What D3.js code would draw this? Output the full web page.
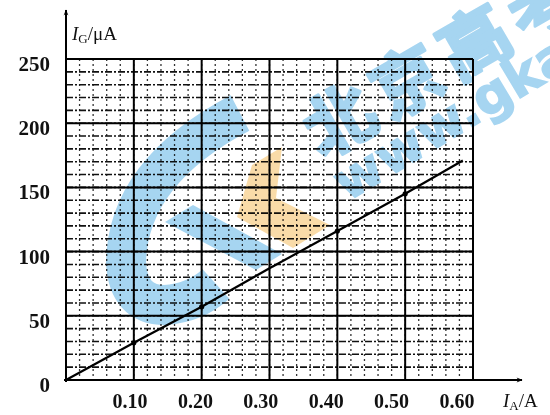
<!DOCTYPE html>
<html>
<head>
<meta charset="utf-8">
<script src="https://cdn.jsdelivr.net/npm/d3@7"></script>
<style>
  body { margin: 0; background: #fff; }
  svg { display: block; }
</style>
</head>
<body>
<div id="chart"></div>
<script>
// data
const currentA = [0, 0.1, 0.2, 0.3, 0.4, 0.5, 0.585];  // I_A in A
const currentG = [0, 29, 57, 87, 116, 145, 171];       // I_G in uA
const markedA = [0.1, 0.2, 0.4, 0.5];
const markedG = [29, 57, 116, 145];
const xTicks = [0.1, 0.2, 0.3, 0.4, 0.5, 0.6];
const xTickLabels = ["0.10", "0.20", "0.30", "0.40", "0.50", "0.60"];
const yTicks = [0, 50, 100, 150, 200, 250];

const width = 550;
const height = 415;

const x = d3.scaleLinear().domain([0, 0.6]).range([66, 473]);
const y = d3.scaleLinear().domain([0, 250]).range([380, 59]);
// printed labels drift a little left of their grid lines
const labelX = d3.scaleLinear().domain([0.1, 0.6]).range([130, 457]);

const svg = d3.select("#chart").append("svg")
  .attr("width", width)
  .attr("height", height);

const serif = "'Liberation Serif', 'DejaVu Serif', serif";

// grid paper
const grid = svg.append("g");
const minorX = d3.range(0, 0.6001, 0.02);
const minorY = d3.range(0, 250.1, 10);

grid.selectAll("line.vminor")
  .data(minorX)
  .enter().append("line")
  .attr("x1", d => x(d)).attr("x2", d => x(d))
  .attr("y1", y(250)).attr("y2", y(0))
  .attr("stroke", "#333")
  .attr("stroke-width", 1.3)
  .attr("stroke-dasharray", "2,3");

grid.selectAll("line.hminor")
  .data(minorY)
  .enter().append("line")
  .attr("x1", x(0)).attr("x2", x(0.6))
  .attr("y1", d => y(d)).attr("y2", d => y(d))
  .attr("stroke", "#111")
  .attr("stroke-width", 1.6)
  .attr("stroke-dasharray", "7,2,2,2");

grid.selectAll("line.vmajor")
  .data(d3.range(0, 0.6001, 0.1))
  .enter().append("line")
  .attr("x1", d => x(d)).attr("x2", d => x(d))
  .attr("y1", y(250)).attr("y2", y(0))
  .attr("stroke", "#000")
  .attr("stroke-width", 2);

grid.selectAll("line.hmajor")
  .data(yTicks)
  .enter().append("line")
  .attr("x1", x(0)).attr("x2", x(0.6))
  .attr("y1", d => y(d)).attr("y2", d => y(d))
  .attr("stroke", "#000")
  .attr("stroke-width", 2);

// watermark (blue G, orange K, site name)
const wm = svg.append("g").style("mix-blend-mode", "multiply");
wm.append("path")
  .attr("d", "M240,113 Q128,172 126,262 Q128,305 165,305 Q195,303 216,284")
  .attr("fill", "none")
  .attr("stroke", "#a6d5f1")
  .attr("stroke-width", 40);
wm.append("path")
  .attr("d", "M165,222 L193,205 L282,254 L256,270 Z")
  .attr("fill", "#a6d5f1");
wm.append("path")
  .attr("d", "M252,165 L282,147 L276,198 L330,225 L293,248 L237,217 Z")
  .attr("fill", "#f9dba8");
wm.append("text")
  .attr("transform", "translate(322,160) rotate(-30)")
  .attr("font-family", "'Noto Sans CJK SC', sans-serif")
  .attr("font-weight", "bold")
  .attr("font-size", 70)
  .attr("letter-spacing", 8)
  .attr("fill", "#a6d5f1")
  .attr("stroke", "#a6d5f1")
  .attr("stroke-width", 3)
  .attr("stroke-linejoin", "round")
  .text("北京高考");
wm.append("text")
  .attr("transform", "translate(347,202) rotate(-31)")
  .attr("font-family", "'DejaVu Sans', sans-serif")
  .attr("font-weight", "bold")
  .attr("font-size", 52)
  .attr("fill", "#a6d5f1")
  .attr("stroke", "#a6d5f1")
  .attr("stroke-width", 1.5)
  .text("www.gkao");

// fitted line and marked points
const pts = currentA.map((d, i) => [d, currentG[i]]);
svg.append("path")
  .datum(pts)
  .attr("fill", "none")
  .attr("stroke", "#000")
  .attr("stroke-width", 2.2)
  .attr("d", d3.line().x(d => x(d[0])).y(d => y(d[1])));

svg.selectAll("circle.pt")
  .data(markedA.map((d, i) => [d, markedG[i]]))
  .enter().append("circle")
  .attr("cx", d => x(d[0]))
  .attr("cy", d => y(d[1]))
  .attr("r", 2.6)
  .attr("fill", "#000");

// axes with arrows
svg.append("defs").append("marker")
  .attr("id", "arrow")
  .attr("viewBox", "0 0 10 10")
  .attr("refX", 9).attr("refY", 5)
  .attr("markerWidth", 9).attr("markerHeight", 6)
  .attr("markerUnits", "userSpaceOnUse")
  .attr("orient", "auto")
  .append("path")
  .attr("d", "M0,1 L10,5 L0,9 L3,5 Z")
  .attr("fill", "#000");

svg.append("line")
  .attr("x1", x(0)).attr("x2", x(0))
  .attr("y1", y(0) + 2).attr("y2", 10)
  .attr("stroke", "#000").attr("stroke-width", 2)
  .attr("marker-end", "url(#arrow)");

svg.append("line")
  .attr("x1", x(0) - 2).attr("x2", 522)
  .attr("y1", y(0)).attr("y2", y(0))
  .attr("stroke", "#000").attr("stroke-width", 2)
  .attr("marker-end", "url(#arrow)");

// tick labels
svg.selectAll("text.ytick")
  .data(yTicks)
  .enter().append("text")
  .attr("x", 50)
  .attr("y", d => y(d) + 12)
  .attr("text-anchor", "end")
  .attr("font-family", serif)
  .attr("font-size", 21)
  .attr("font-weight", "bold")
  .attr("fill", "#111")
  .text(d => d);

svg.selectAll("text.xtick")
  .data(xTicks)
  .enter().append("text")
  .attr("x", d => labelX(d))
  .attr("y", 408)
  .attr("text-anchor", "middle")
  .attr("font-family", serif)
  .attr("font-size", 20)
  .attr("font-weight", "bold")
  .attr("fill", "#111")
  .text((d, i) => xTickLabels[i]);

// axis titles
const yTitle = svg.append("text")
  .attr("x", 72).attr("y", 40)
  .attr("font-family", serif)
  .attr("font-size", 19)
  .attr("fill", "#111");
yTitle.append("tspan").attr("font-style", "italic").text("I");
yTitle.append("tspan").attr("font-size", 13).attr("dy", 3).text("G");
yTitle.append("tspan").attr("dy", -3).text("/μA");

const xTitle = svg.append("text")
  .attr("x", 503).attr("y", 407)
  .attr("font-family", serif)
  .attr("font-size", 19)
  .attr("fill", "#111");
xTitle.append("tspan").attr("font-style", "italic").text("I");
xTitle.append("tspan").attr("font-size", 13).attr("dy", 3).text("A");
xTitle.append("tspan").attr("dy", -3).text("/A");
</script>
</body>
</html>
